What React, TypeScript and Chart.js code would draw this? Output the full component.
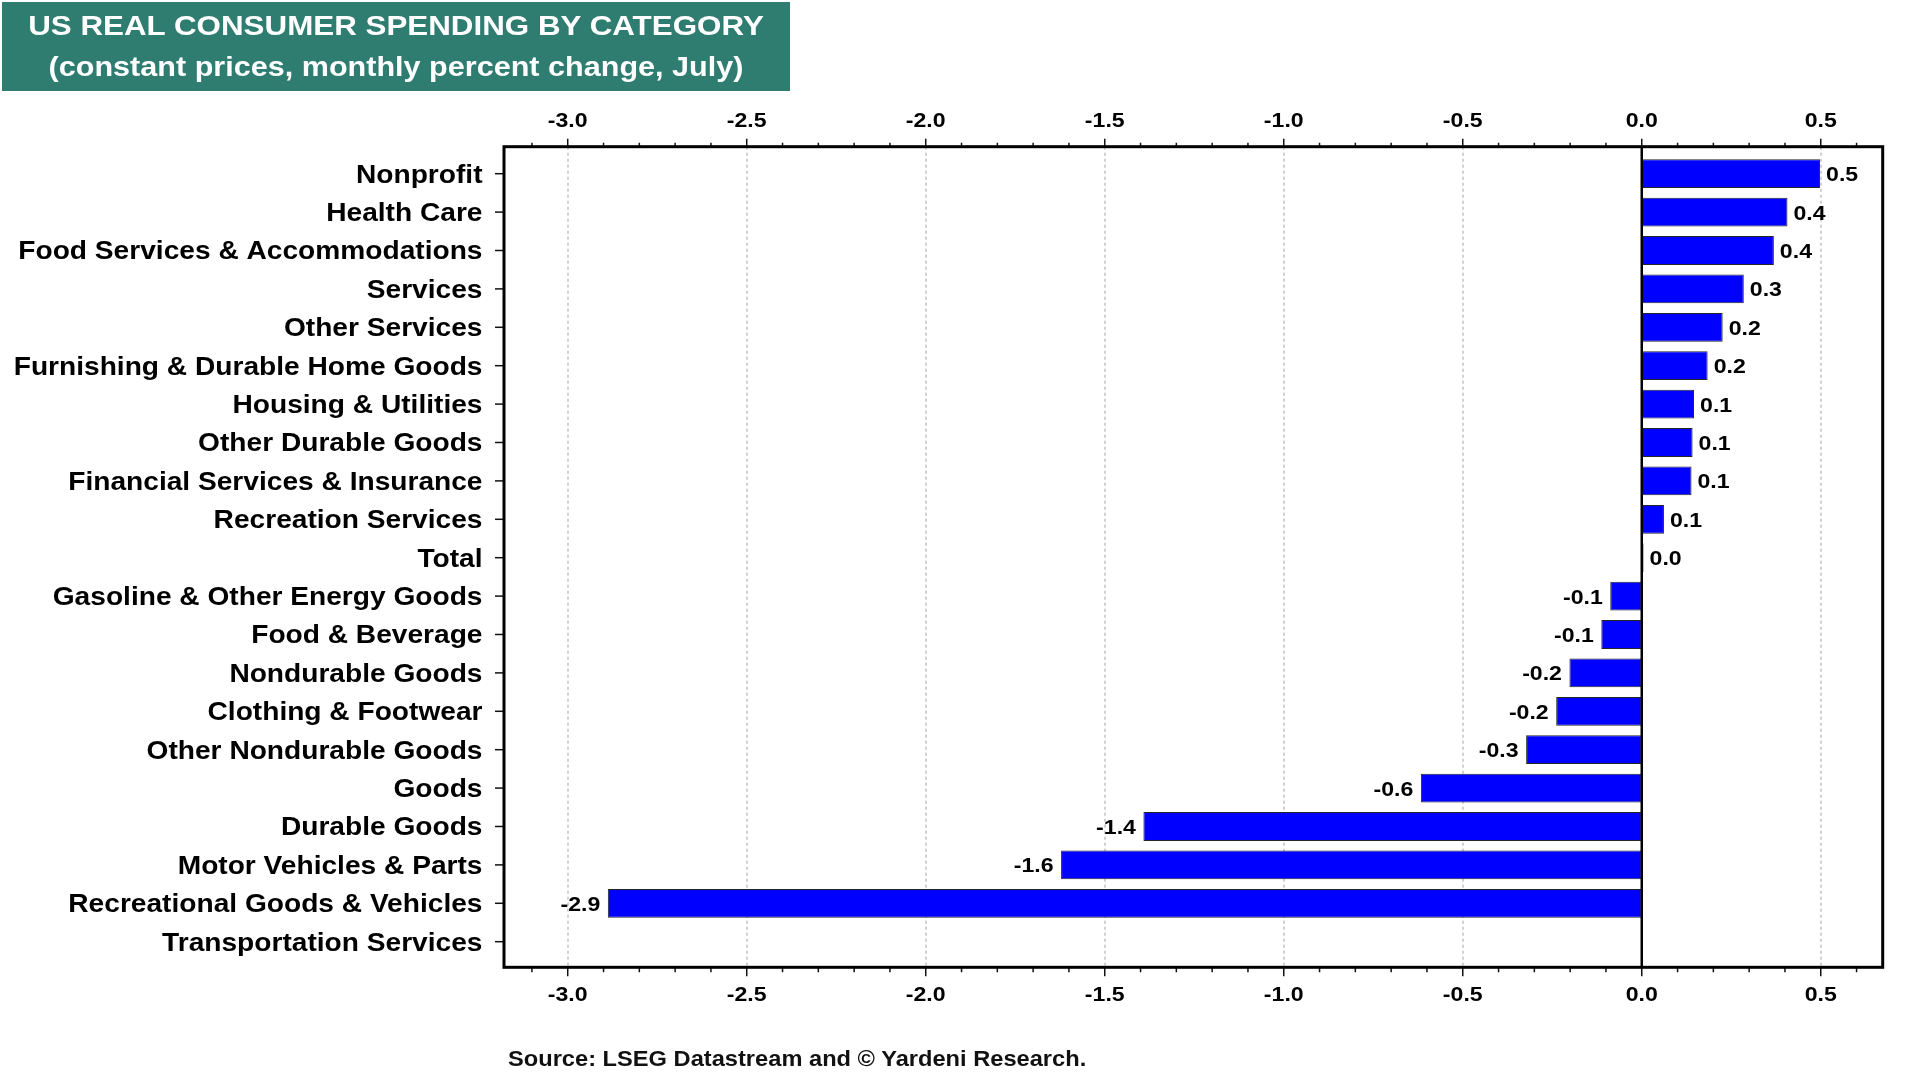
import React, { useEffect, useRef } from "react";
import { Chart, registerables } from "chart.js";

Chart.register(...registerables);

const CATEGORIES: string[] = [
  "Nonprofit",
  "Health Care",
  "Food Services & Accommodations",
  "Services",
  "Other Services",
  "Furnishing & Durable Home Goods",
  "Housing & Utilities",
  "Other Durable Goods",
  "Financial Services & Insurance",
  "Recreation Services",
  "Total",
  "Gasoline & Other Energy Goods",
  "Food & Beverage",
  "Nondurable Goods",
  "Clothing & Footwear",
  "Other Nondurable Goods",
  "Goods",
  "Durable Goods",
  "Motor Vehicles & Parts",
  "Recreational Goods & Vehicles",
  "Transportation Services",
];

const VALUES: (number | null)[] = [
  0.498, 0.407, 0.369, 0.285, 0.226, 0.184, 0.146, 0.142, 0.139, 0.062, 0.005,
  -0.088, -0.113, -0.202, -0.239, -0.323, -0.617, -1.392, -1.622, -2.888, null,
];

const X_TICKS: number[] = [-3.0, -2.5, -2.0, -1.5, -1.0, -0.5, 0.0, 0.5];
const X_MIN = -3.178;
const X_MAX = 0.673;

const TITLE_LINES: string[] = [
  "US REAL CONSUMER SPENDING BY CATEGORY",
  "(constant prices, monthly percent change, July)",
];
const SOURCE = "Source: LSEG Datastream and \u00A9 Yardeni Research.";

const FONT_FAMILY = '"Liberation Sans", Arial, Helvetica, sans-serif';
const STRETCH = 1.1;

function stretchText(
  ctx: CanvasRenderingContext2D,
  text: string,
  x: number,
  y: number,
  align: "left" | "right" | "center",
  size: number,
  sx: number = STRETCH
) {
  ctx.save();
  ctx.font = `bold ${size}px ${FONT_FAMILY}`;
  const w = ctx.measureText(text).width * sx;
  const left = align === "right" ? x - w : align === "center" ? x - w / 2 : x;
  ctx.translate(left, y);
  ctx.scale(sx, 1);
  ctx.textAlign = "left";
  ctx.textBaseline = "alphabetic";
  ctx.fillStyle = "#000";
  ctx.fillText(text, 0, 0);
  ctx.restore();
}

const decorPlugin = {
  id: "decor",
  beforeDatasetsDraw(chart: any) {
    const { ctx, chartArea } = chart;
    const xs = chart.scales.x;
    ctx.save();
    ctx.strokeStyle = "#d0d0d0";
    ctx.lineWidth = 2;
    ctx.setLineDash([3, 3]);
    X_TICKS.forEach((v) => {
      if (v === 0) return;
      const px = Math.round(xs.getPixelForValue(v));
      ctx.beginPath();
      ctx.moveTo(px, chartArea.top);
      ctx.lineTo(px, chartArea.bottom);
      ctx.stroke();
    });
    ctx.restore();
  },
  afterDatasetsDraw(chart: any) {
    const { ctx, chartArea } = chart;
    const xs = chart.scales.x;
    const ys = chart.scales.y;
    const { left, right, top, bottom } = chartArea;

    // zero line
    ctx.save();
    ctx.strokeStyle = "#000";
    ctx.lineWidth = 2.5;
    const zx = xs.getPixelForValue(0);
    ctx.beginPath();
    ctx.moveTo(zx, top);
    ctx.lineTo(zx, bottom);
    ctx.stroke();

    // x ticks (major + minor), top and bottom
    ctx.lineWidth = 1.5;
    ctx.strokeStyle = "#111";
    const i0 = Math.ceil(X_MIN * 10);
    const i1 = Math.floor(X_MAX * 10);
    for (let i = i0; i <= i1; i++) {
      const major = i % 5 === 0;
      const px = xs.getPixelForValue(i / 10);
      ctx.beginPath();
      ctx.moveTo(px, top);
      ctx.lineTo(px, top - (major ? 8 : 4));
      ctx.moveTo(px, bottom);
      ctx.lineTo(px, bottom + (major ? 9 : 5));
      ctx.stroke();
    }

    // y ticks
    CATEGORIES.forEach((_, i) => {
      const py = ys.getPixelForValue(i);
      ctx.beginPath();
      ctx.moveTo(left, py);
      ctx.lineTo(left - 9, py);
      ctx.stroke();
    });

    // frame
    ctx.lineWidth = 3;
    ctx.strokeStyle = "#000";
    ctx.strokeRect(left, top, right - left, bottom - top);
    ctx.restore();

    // x tick labels
    X_TICKS.forEach((v) => {
      const px = xs.getPixelForValue(v);
      const t = v.toFixed(1);
      stretchText(ctx, t, px, top - 20, "center", 21);
      stretchText(ctx, t, px, bottom + 33.5, "center", 21);
    });

    // category labels
    CATEGORIES.forEach((c, i) => {
      const py = ys.getPixelForValue(i);
      stretchText(ctx, c, left - 21.5, py + 0.358 * 25, "right", 25, 1.125);
    });

    // value labels
    const meta = chart.getDatasetMeta(0);
    meta.data.forEach((el: any, j: number) => {
      const raw = (chart.data.datasets[0].data[j] as any).x as number;
      const y = el.y + 0.358 * 21;
      const t = raw.toFixed(1);
      if (raw >= 0) {
        stretchText(ctx, t, Math.max(el.x, el.base) + 6, y, "left", 21);
      } else {
        stretchText(ctx, t, Math.min(el.x, el.base) - 7.5, y, "right", 21);
      }
    });
  },
};

export default function App() {
  const canvasRef = useRef<HTMLCanvasElement | null>(null);

  useEffect(() => {
    const canvas = canvasRef.current;
    if (!canvas) return;
    const points = VALUES.map((v, i) => (v === null ? null : { x: v, y: i })).filter(
      (p) => p !== null
    ) as { x: number; y: number }[];

    const chart = new Chart(canvas, {
      type: "bar",
      data: {
        datasets: [
          {
            data: points as any,
            backgroundColor: "#0000FF",
            borderColor: "#262626",
            borderWidth: 1,
            borderSkipped: false,
            barPercentage: 0.75,
            categoryPercentage: 1,
            xAxisID: "x",
            yAxisID: "y",
          },
        ],
      },
      options: {
        indexAxis: "y",
        responsive: false,
        animation: false,
        devicePixelRatio: 1,
        events: [],
        layout: { padding: { left: 0, top: 0, right: 37.3, bottom: 0 } },
        plugins: {
          legend: { display: false },
          tooltip: { enabled: false },
          title: { display: false },
        },
        scales: {
          x: {
            type: "linear",
            position: "bottom",
            min: X_MIN,
            max: X_MAX,
            offset: false,
            grid: { display: false },
            border: { display: false },
            ticks: { display: false },
            afterFit: (s: any) => {
              s.height = 112.7;
            },
          },
          x2: {
            type: "linear",
            position: "top",
            min: X_MIN,
            max: X_MAX,
            offset: false,
            grid: { display: false },
            border: { display: false },
            ticks: { display: false },
            afterFit: (s: any) => {
              s.height = 146.7;
            },
          },
          y: {
            type: "linear",
            position: "left",
            reverse: true,
            offset: false,
            min: -0.703,
            max: 20.667,
            grid: { display: false, offset: false },
            border: { display: false },
            ticks: { display: false },
            afterBuildTicks: (s: any) => {
              s.ticks = CATEGORIES.map((_, i) => ({ value: i }));
            },
            afterFit: (s: any) => {
              s.width = 504;
            },
          },
        },
      } as any,
      plugins: [decorPlugin],
    });
    return () => chart.destroy();
  }, []);

  return (
    <div
      style={{
        position: "fixed",
        left: 0,
        top: 0,
        width: 1920,
        height: 1080,
        background: "#fff",
        overflow: "hidden",
      }}
    >
      <canvas
        ref={canvasRef}
        width={1920}
        height={1080}
        style={{ position: "absolute", left: 0, top: 0, width: 1920, height: 1080 }}
      />
      <div
        style={{
          position: "absolute",
          left: 2,
          top: 2,
          width: 788,
          height: 89,
          boxSizing: "border-box",
          paddingTop: 1,
          background: "#2E7D70",
          color: "#fff",
          fontFamily: FONT_FAMILY,
          fontWeight: "bold",
          textAlign: "center",
          whiteSpace: "nowrap",
        }}
      >
        <div style={{ fontSize: 28.5, lineHeight: "44px", transform: `scaleX(${STRETCH})` }}>
          {TITLE_LINES[0]}
        </div>
        <div style={{ fontSize: 27.8, lineHeight: "40px", transform: `scaleX(${STRETCH})` }}>
          {TITLE_LINES[1]}
        </div>
      </div>
      <div
        style={{
          position: "absolute",
          left: 508,
          top: 1048.5,
          fontFamily: FONT_FAMILY,
          fontWeight: "bold",
          fontSize: 21.5,
          lineHeight: 1,
          color: "#111",
          whiteSpace: "nowrap",
          transform: `scaleX(${STRETCH})`,
          transformOrigin: "left center",
        }}
      >
        {SOURCE}
      </div>
    </div>
  );
}
